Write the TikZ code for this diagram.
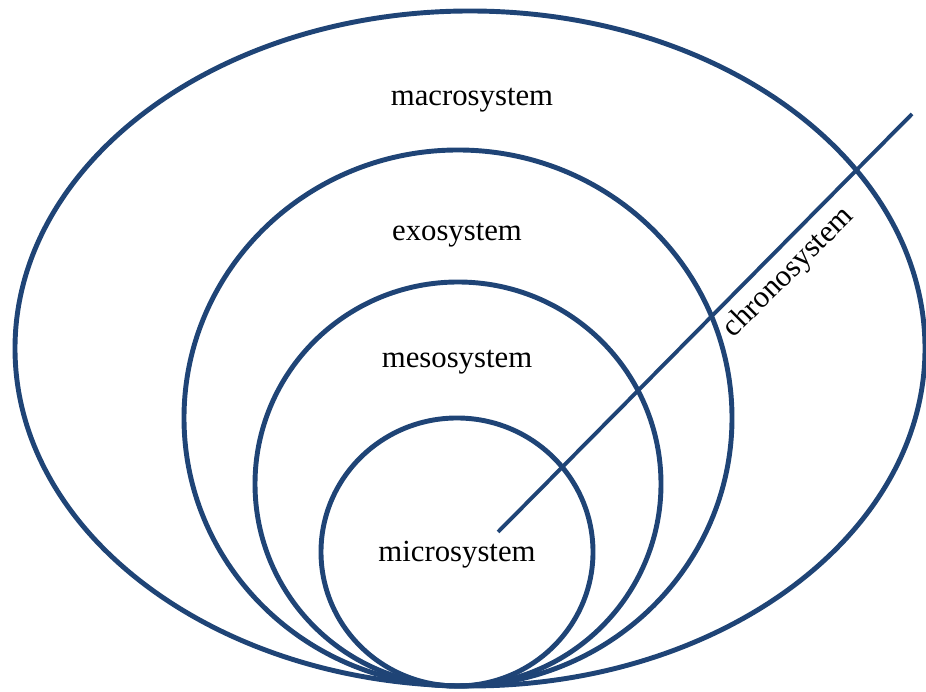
\documentclass[tikz,border=0pt]{standalone}
\usepackage{fontspec}
\setmainfont{Liberation Serif}
\usetikzlibrary{positioning}
\definecolor{darkblue}{RGB}{31,68,118}

\begin{document}
\begin{tikzpicture}[x=0.02cm,y=0.02cm,
    system/.style={line width=2.8pt, darkblue},
    label/.style={font=\fontsize{17.5}{21}\selectfont, inner sep=0pt}]
      \useasboundingbox (0,0) rectangle (926,692);
      % Define coordinates (centres of the systems)
      \coordinate (Mac) at (470,343.5);
      \coordinate (Exo) at (458,274);
      \coordinate (Mes) at (458,208);
      \coordinate (Mic) at (457,140);
      % Draw the nested systems
      \draw[system] (Mac) ellipse [x radius=455, y radius=337.5];
      \draw[system] (Exo) ellipse [x radius=274, y radius=268];
      \draw[system] (Mes) ellipse [x radius=203, y radius=202];
      \draw[system] (Mic) ellipse [x radius=136, y radius=134];
      % Time axis
      \coordinate (O) at (498,160);
      \coordinate (T) at (912,578);
      \draw[line width=2.2pt, darkblue] (O) -- (T);
      % Labels
      \node[label] (macro) at (472,592) {macrosystem};
      \node[label] (exo) at (457,457) {exosystem};
      \node[label] (meso) at (457,330) {mesosystem};
      \node[label] (micro) at (457,137) {microsystem};
      \node[label, rotate=45] (chrono) at (789,419) {chronosystem};
    \end{tikzpicture}
\end{document}
